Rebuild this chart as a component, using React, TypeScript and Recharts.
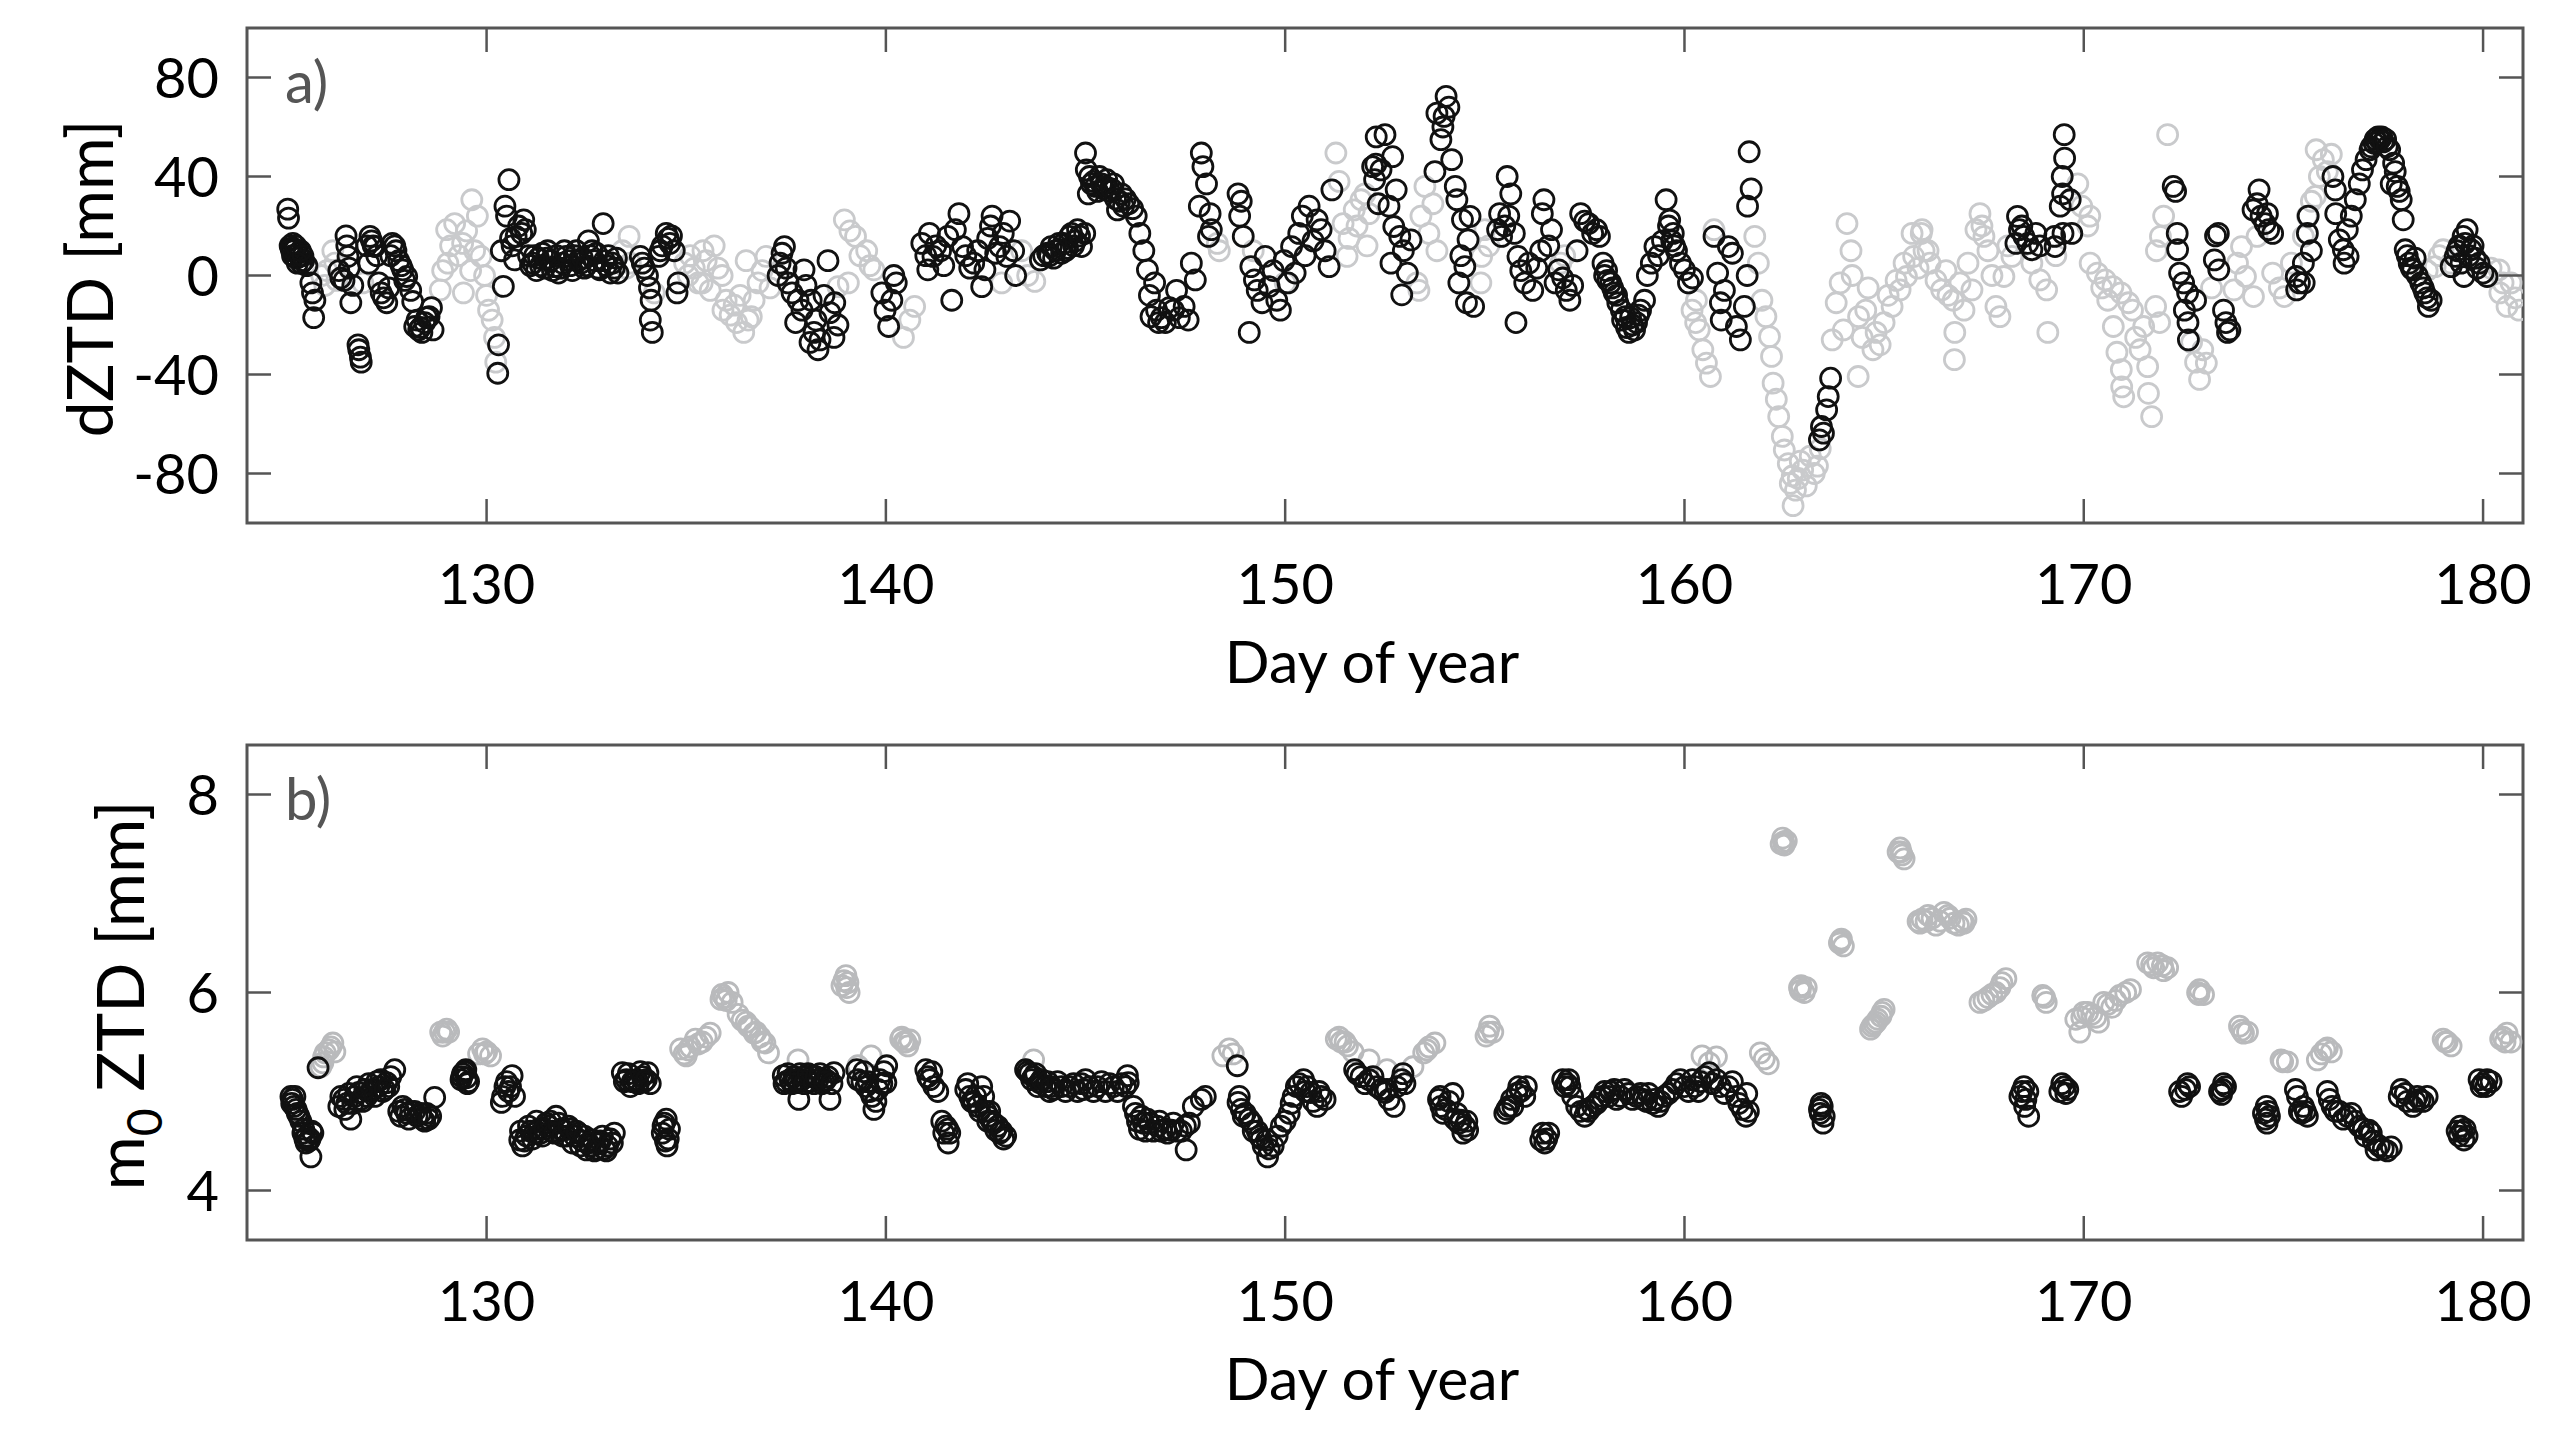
import React from "react";
import { ScatterChart, Scatter, XAxis, YAxis, ReferenceArea } from "recharts";

const dayTicks = [130, 140, 150, 160, 170, 180];
const dztdTicks = [-80, -40, 0, 40, 80];
const m0Ticks = [4, 6, 8];

// dZTD [mm], black markers: [day of year, value]
const dztdDark: [number, number][] = [
  [125.02, 26.8], [125.04, 23.2], [125.08, 12], [125.12, 10], [125.15, 13], [125.18, 8], [125.2, 10.5],
  [125.24, 7], [125.28, 9], [125.32, 7.7], [125.36, 5], [125.42, 6], [125.5, 4], [125.6, -3], [125.64, -7],
  [125.67, -17], [125.7, -10], [125.1, 11], [125.14, 8], [125.22, 12], [125.26, 5], [125.34, 10], [125.4, 8],
  [126.3, 2], [126.35, -1], [126.43, -2], [126.48, 16], [126.5, 12], [126.53, 7.7],
  [126.56, 3], [126.6, -11], [126.65, -4], [126.78, -28], [126.8, -30], [126.84, -33], [126.86, -35],
  [127.0, 12], [127.05, 5], [127.08, 15.8], [127.12, 14], [127.16, 12], [127.2, 11.7], [127.25, 8], [127.3, -3],
  [127.36, -7], [127.42, -9], [127.5, -11], [127.55, -5], [127.6, 8], [127.64, 13], [127.7, 12], [127.73, 10],
  [127.8, 6], [127.86, 4], [127.9, 2.3], [127.95, -2], [128.0, -0.4], [128.1, -6], [128.15, -10.5], [128.2, -20.6],
  [128.26, -18], [128.3, -22], [128.35, -21], [128.38, -23], [128.45, -19], [128.5, -17], [128.56, -16.6],
  [128.62, -13], [128.66, -22],
  [130.28, -39.5], [130.3, -28], [130.37, 10], [130.42, -4.4], [130.46, 28], [130.5, 24], [130.56, 38.7],
  [130.6, 15], [130.64, 12], [130.7, 6.3], [130.74, 15.8], [130.8, 20], [130.88, 17], [130.93, 22.5], [130.97, 18.5],
  [131.05, 8], [131.1, 4], [131.16, 5], [131.25, 2], [131.3, 7], [131.4, 9], [131.45, 3], [131.53, 10], [131.6, 6],
  [131.7, 3.6], [131.8, 1], [131.9, 5], [131.99, 7.7], [132.1, 4], [132.2, 8], [132.3, 6], [132.36, 5], [132.45, 3],
  [132.55, 14], [132.6, 8], [132.64, 10], [132.7, 6], [132.8, 3], [132.83, 2.3], [132.92, 21], [133.0, 4],
  [133.1, 1], [133.2, 3], [133.29, 1],
  [131.2, 8], [131.35, 4], [131.5, 7], [131.65, 2], [131.75, 8], [131.85, 3], [131.95, 10], [132.05, 6],
  [132.15, 2], [132.25, 10], [132.4, 7], [132.5, 4], [132.75, 9], [132.95, 6], [133.05, 8], [133.15, 5], [133.25, 7],
  [133.85, 7.7], [133.9, 5], [133.95, 3], [134.03, 0], [134.08, -5],
  [134.12, -10], [134.1, -18], [134.15, -23], [134.31, 7.7], [134.35, 10], [134.4, 12], [134.5, 17], [134.55, 15],
  [134.59, 13], [134.63, 16], [134.7, 10], [134.77, -7], [134.8, -3],
  [137.3, 0], [137.35, 5], [137.4, 9], [137.46, 11.7], [137.5, 3], [137.55, -3], [137.65, -7], [137.74, -19],
  [137.8, -10], [137.9, -14], [137.95, 2.3], [138.0, -4], [138.1, -27], [138.13, -10], [138.2, -23], [138.25, -18],
  [138.3, -30], [138.35, -26], [138.45, -8], [138.55, 6], [138.6, -15], [138.7, -25], [138.72, -11], [138.8, -20],
  [139.9, -7], [139.98, -14], [140.07, -20.6], [140.15, -10], [140.2, 0], [140.26, -3],
  [140.9, 13], [141.0, 8], [141.05, 2.3], [141.09, 17], [141.18, 7.7], [141.25, 12], [141.37, 10], [141.45, 4],
  [141.55, 15.8], [141.65, -10], [141.74, 18.5], [141.83, 25], [141.92, 11.7], [142.0, 8], [142.1, 3], [142.2, 5],
  [142.3, 10], [142.4, -4.5], [142.48, 2.3], [142.55, 15], [142.62, 20], [142.66, 24], [142.75, 9], [142.85, 11.7],
  [142.94, 17], [143.03, 7.7], [143.1, 22], [143.2, 10], [143.25, 0],
  [143.87, 6.3], [143.95, 8], [144.05, 9], [144.14, 11.7], [144.2, 7], [144.33, 13], [144.4, 9], [144.5, 10],
  [144.6, 15.8], [144.7, 12], [144.8, 18.5], [144.9, 11.7], [144.98, 17],
  [144.1, 8], [144.25, 10], [144.45, 13], [144.55, 11], [144.65, 17], [144.75, 14], [144.85, 16],
  [145.0, 49.5], [145.02, 42.7], [145.07, 33], [145.15, 37], [145.25, 36], [145.35, 40], [145.45, 35], [145.53, 38.7],
  [145.6, 34], [145.7, 37], [145.8, 26.5], [145.9, 33], [146.0, 31], [146.08, 29], [146.18, 27], [146.27, 24],
  [145.1, 40], [145.2, 38], [145.3, 34], [145.4, 37], [145.5, 36], [145.65, 35], [145.75, 31], [145.85, 30],
  [145.95, 28],
  [146.36, 17], [146.46, 10], [146.55, 2.3], [146.6, -8], [146.64, -16.6], [146.73, -3], [146.78, -14], [146.83, -19],
  [146.9, -17], [147.0, -19], [147.1, -13], [147.2, -14], [147.28, -6], [147.35, -17], [147.47, -12.5], [147.57, -18],
  [147.65, 5], [147.75, -1.8], [147.85, 28], [147.9, 49.5], [147.94, 44], [148.03, 37], [148.08, 15.8], [148.12, 25],
  [148.15, 18.5], [148.82, 33], [148.86, 24], [148.9, 30], [148.95, 15.8],
  [149.1, -23], [149.14, 3.6], [149.23, -1.8], [149.3, -6], [149.42, -11], [149.5, 7.7], [149.6, -4.5], [149.7, 2],
  [149.79, -10], [149.88, -14], [149.97, 6], [150.07, -3], [150.16, 11.7], [150.25, 1], [150.34, 17], [150.43, 24],
  [150.5, 8], [150.6, 28], [150.7, 14], [150.8, 22.5], [150.9, 18.5], [151.0, 10], [151.1, 3.6], [151.17, 34.6],
  [152.19, 44], [152.24, 38.7], [152.27, 45], [152.28, 56], [152.33, 29], [152.4, 42.7], [152.5, 56.9], [152.6, 28],
  [152.65, 5], [152.69, 48], [152.72, 19.8], [152.78, 34.6], [152.87, 15.8], [152.92, -7.8], [152.96, 10],
  [153.06, 1], [153.15, 14.4],
  [153.75, 42], [153.8, 65.6], [153.9, 54.9], [153.95, 60], [153.98, 64.3], [154.03, 72.4], [154.1, 68],
  [154.17, 46.8], [154.26, 36], [154.3, 30.6], [154.35, -3], [154.4, 8], [154.44, 22.5], [154.5, 3.6], [154.54, -11],
  [154.58, 14.4], [154.63, 23.9], [154.72, -12.5],
  [155.32, 18.5], [155.37, 25], [155.42, 15.8], [155.5, 20], [155.56, 40], [155.6, 24], [155.65, 33], [155.74, 17],
  [155.78, -19], [155.83, 7.7], [155.9, 2], [156.0, -3], [156.1, 5], [156.2, -6], [156.3, 3], [156.4, 10],
  [156.44, 25], [156.48, 30.6], [156.6, 12], [156.67, 18.5], [156.76, -3], [156.85, 2.3], [156.95, -1], [157.04, -6],
  [157.13, -10], [157.2, -4], [157.31, 10], [157.4, 25], [157.5, 22], [157.6, 21], [157.7, 17], [157.8, 18.5],
  [157.87, 15.8], [157.96, 5], [158.0, 0], [158.08, -2], [158.15, -3], [158.24, -7], [158.33, -11], [158.42, -14],
  [158.52, -16.6], [158.61, -23], [158.7, -20], [158.8, -19], [158.9, -14], [159.0, -10], [159.07, 0], [159.17, 5],
  [158.05, 2], [158.2, -5], [158.3, -8], [158.45, -18], [158.55, -21], [158.65, -17], [158.75, -22], [158.85, -16],
  [159.26, 11.7], [159.35, 8], [159.45, 14], [159.54, 30.6], [159.63, 22.4], [159.72, 17], [159.8, 10], [159.9, 5],
  [159.6, 20], [159.68, 14], [159.75, 12],
  [160.0, 2.3], [160.1, -3], [160.2, -1],
  [160.74, 15.8], [160.83, 1], [160.9, -11], [160.92, -18], [161.0, -6], [161.1, 11.7], [161.2, 9], [161.3, -20.6],
  [161.4, -26], [161.5, -12.5], [161.57, 0], [161.58, 28], [161.62, 50], [161.67, 35],
  [163.38, -66.4], [163.43, -61], [163.48, -63.7], [163.56, -54.3], [163.6, -48.9], [163.66, -41.5],
  [168.3, 13], [168.34, 23.9], [168.39, 18.5], [168.45, 20], [168.5, 15.8], [168.6, 13], [168.7, 10.4], [168.8, 17],
  [168.9, 12], [169.27, 15.8], [169.28, 11.7], [169.41, 28], [169.46, 40], [169.47, 33], [169.48, 17],
  [169.51, 56.9], [169.52, 47.4], [169.66, 30.6], [169.7, 17],
  [172.24, 36], [172.3, 34], [172.34, 17], [172.35, 10.4], [172.4, 1], [172.5, -3], [172.52, -14], [172.6, -7],
  [172.61, -19], [172.62, -26], [172.8, -10], [173.27, 6.3], [173.3, 16], [173.37, 17], [173.38, 2.3], [173.5, -14],
  [173.56, -19], [173.6, -23], [173.66, -22],
  [174.24, 26.5], [174.34, 29], [174.39, 34.6], [174.44, 24], [174.54, 21], [174.6, 25], [174.63, 18.5],
  [174.73, 17], [175.32, -0.4], [175.33, -5.8], [175.4, -3], [175.5, 5], [175.52, -3], [175.6, 17], [175.62, 24],
  [175.7, 10],
  [176.24, 40], [176.3, 34.6], [176.31, 25], [176.4, 14.4], [176.5, 10.4], [176.52, 5], [176.6, 18.5], [176.62, 7.7],
  [176.7, 24], [176.8, 30.6], [176.9, 37], [176.98, 42.7], [177.07, 46.8], [177.17, 50.8], [177.27, 53.5],
  [177.37, 56], [177.42, 55], [177.46, 56], [177.56, 55], [177.66, 50.8], [177.7, 37], [177.76, 45.4], [177.85, 36],
  [177.2, 52], [177.3, 55], [177.35, 54], [177.5, 54], [177.6, 52], [177.8, 42], [177.9, 34],
  [177.95, 30.6], [178.0, 22.5], [178.05, 10.4], [178.15, 5], [178.24, 2.3], [178.3, 7], [178.44, -3], [178.54, -7],
  [178.1, 8], [178.2, 3], [178.35, 0], [178.5, -5], [178.6, -9],
  [178.63, -12.5], [178.7, -10], [179.2, 3.6], [179.3, 7.7], [179.4, 12], [179.5, 15.8], [179.52, -0.4], [179.6, 18.5],
  [179.7, 10.4], [179.8, 7], [179.9, 5], [180.1, -0.4],
  [179.35, 10], [179.45, 5], [179.55, 13], [179.65, 8], [179.75, 12], [179.85, 3], [180.0, 1],
];

// dZTD [mm], light grey markers
const dztdLight: [number, number][] = [
  [125.87, 0], [125.95, -4], [126.0, 2], [126.15, 10], [126.2, 5], [126.25, -2], [126.9, -3],
  [128.84, -5.8], [128.9, 2], [129.0, 18.5], [129.03, 5], [129.1, 12], [129.2, 21], [129.3, 8], [129.4, 13],
  [129.42, -7], [129.5, 18], [129.6, 2], [129.63, 30.6], [129.7, 10], [129.77, 24], [129.86, 7.7], [129.95, 0],
  [130.0, -8], [130.05, -14], [130.14, -18], [130.2, -25], [130.23, -35],
  [133.4, 10], [133.5, 3], [133.57, 15.8], [133.6, 5], [134.2, -7],
  [134.96, 5], [135.05, 0], [135.1, 8], [135.2, 3], [135.3, -3], [135.4, -3], [135.42, 10], [135.5, 6], [135.6, -6],
  [135.7, 12], [135.8, 3], [135.9, 0], [135.92, -14], [136.0, -10], [136.1, -16], [136.2, -12], [136.26, -19],
  [136.35, -8], [136.44, -23], [136.5, 6], [136.55, -18], [136.63, -16.6], [136.7, -10], [136.8, -3], [136.9, 2],
  [137.0, 7.7], [137.1, -5],
  [138.8, -4.5], [138.96, 22.5], [139.06, -3], [139.1, 18], [139.24, 15.8], [139.35, 8], [139.52, 10], [139.6, 4],
  [139.7, 2.3], [140.44, -25], [140.6, -18], [140.72, -12.5], [142.9, -3], [143.4, 10], [143.55, 0], [143.73, -2.4],
  [148.3, 13], [148.35, 10], [149.2, 10], [150.0, -3],
  [151.27, 49.5], [151.35, 38], [151.45, 21], [151.55, 7.7], [151.6, 15], [151.73, 26.5], [151.8, 20], [151.9, 30.6],
  [152.0, 33], [152.05, 12], [152.1, 25], [153.3, -3], [153.35, -6], [153.4, 24], [153.5, 36], [153.6, 17],
  [153.7, 29], [153.8, 10], [154.9, -3], [154.92, 7.7], [155.0, 18.5], [155.1, 12], [156.9, 5], [157.0, 8],
  [160.19, -14], [160.28, -19], [160.3, -10], [160.37, -22], [160.46, -30], [160.55, -35.4], [160.65, -40.8],
  [160.74, 18.5], [161.76, 15.8], [161.85, 5], [161.94, -10], [162.04, -16.6], [162.13, -24.7], [162.18, -32.7],
  [162.22, -43.5], [162.3, -50], [162.36, -57], [162.45, -65], [162.5, -70.5], [162.6, -76], [162.65, -84],
  [162.7, -81], [162.72, -93], [162.78, -86.7], [162.85, -82], [162.9, -75], [162.96, -78.6], [163.05, -85],
  [163.15, -73], [163.25, -80], [163.33, -77], [163.4, -70],
  [163.7, -26], [163.8, -11], [163.9, -3], [163.98, -22], [164.07, 21], [164.17, 10], [164.2, 0], [164.35, -40.8],
  [164.36, -16.6], [164.45, -25], [164.54, -14], [164.6, -5], [164.72, -30], [164.8, -23], [164.9, -28], [165.0, -19],
  [165.1, -8], [165.2, -12.5], [165.3, -2], [165.4, -5.8], [165.5, 5], [165.56, -0.4], [165.7, 17], [165.74, 7.7],
  [165.85, 3], [165.93, 17], [165.95, 18.5], [166.0, 10], [166.1, 10], [166.15, 5], [166.3, -2], [166.44, -5.8],
  [166.55, 2], [166.6, -8], [166.73, -10], [166.76, -34], [166.77, -23], [166.9, -3], [167.0, -14], [167.1, 5],
  [167.2, -5.8], [167.3, 18.5], [167.4, 25], [167.45, 20], [167.5, 15.8], [167.6, 10], [167.7, 0], [167.8, -12.5],
  [167.9, -16.6], [168.0, -0.4], [168.1, 12], [168.2, 7.7], [168.7, 5], [168.9, -1.8], [169.07, -5.8], [169.1, -23],
  [169.3, 8], [169.85, 37], [169.95, 28], [170.1, 20], [170.15, 24], [170.16, 5], [170.34, 1], [170.45, -5],
  [170.54, -1.8], [170.6, -10], [170.73, -4.5], [170.74, -20.6], [170.83, -31], [170.93, -7], [170.94, -38],
  [170.95, -45], [171.0, -49], [171.12, -11], [171.22, -14], [171.3, -25], [171.41, -30], [171.5, -20.6],
  [171.6, -36.8], [171.62, -47.6], [171.7, -57], [171.8, -12.5], [171.82, 10], [171.9, -19], [171.92, 15.8],
  [172.0, 24], [172.1, 56.9], [172.7, -27], [172.8, -35], [172.9, -42], [172.98, -30], [173.07, -35.4], [173.2, -5],
  [173.76, -5.8], [173.85, 5], [173.95, 11.7], [174.05, -0.4], [174.25, -8.5], [174.34, 15.8], [174.73, 1],
  [174.9, -5], [175.02, -8.5], [175.2, 5], [175.5, 15.8], [175.6, 24], [175.7, 30], [175.8, 32], [175.82, 50.8],
  [175.9, 40], [176.0, 46.8], [176.1, 42], [176.2, 49],
  [178.6, 2], [178.8, 3.6], [178.9, 8], [179.0, 10.4], [179.2, 5], [180.2, 3], [180.4, 2.3], [180.42, -7],
  [180.5, -3], [180.6, -12.5], [180.7, -3], [180.8, -9], [180.9, -14],
];

// m0 ZTD [mm], black markers
const m0Dark: [number, number][] = [
  [125.1, 4.95], [125.14, 4.92], [125.18, 4.85], [125.23, 4.82], [125.3, 4.75], [125.4, 4.58], [125.45, 4.52],
  [125.5, 4.55], [125.55, 4.5], [125.6, 4.34], [125.65, 4.58], [125.78, 5.24],
  [125.12, 4.88], [125.2, 4.95], [125.26, 4.78], [125.35, 4.7], [125.42, 4.62], [125.48, 4.48], [125.58, 4.52],
  [125.62, 4.6],
  [126.3, 4.85], [126.42, 4.92], [126.5, 4.88], [126.6, 4.72], [126.7, 4.95], [126.8, 4.99], [126.9, 4.9],
  [127.0, 4.95], [127.1, 5.0], [127.16, 5.02], [127.3, 5.05], [127.4, 5.0], [127.5, 5.09], [127.6, 5.15],
  [127.7, 5.22], [127.8, 4.8], [127.9, 4.85], [128.0, 4.78], [128.1, 4.8], [128.26, 4.75], [128.4, 4.72],
  [128.5, 4.78], [128.6, 4.75], [128.7, 4.94],
  [126.35, 4.95], [126.45, 4.82], [126.55, 4.98], [126.65, 4.88], [126.75, 5.05], [126.85, 4.92], [126.95, 5.02],
  [127.05, 5.08], [127.2, 4.95], [127.25, 5.1], [127.35, 5.12], [127.45, 5.02], [127.55, 5.05],
  [127.85, 4.75], [127.95, 4.82], [128.05, 4.72], [128.2, 4.8], [128.35, 4.78], [128.45, 4.7], [128.55, 4.72],
  [129.36, 5.12], [129.4, 5.18], [129.45, 5.2], [129.5, 5.14], [129.55, 5.1],
  [129.38, 5.15], [129.48, 5.22], [129.52, 5.08],
  [130.37, 4.89], [130.46, 5.05], [130.55, 5.0], [130.64, 5.16], [130.7, 4.95],
  [130.4, 4.95], [130.5, 5.1], [130.6, 5.05],
  [130.83, 4.51], [130.9, 4.45], [131.0, 4.55], [131.1, 4.6], [131.2, 4.58], [131.3, 4.62], [131.4, 4.55],
  [131.5, 4.68], [131.56, 4.65], [131.65, 4.6], [131.74, 4.75], [131.85, 4.62], [131.93, 4.61], [132.0, 4.55],
  [132.1, 4.62], [132.2, 4.55], [132.3, 4.58], [132.4, 4.5], [132.5, 4.41], [132.6, 4.45], [132.66, 4.51],
  [132.75, 4.42], [132.85, 4.5], [132.95, 4.42], [133.03, 4.45], [133.1, 4.52], [133.2, 4.58],
  [130.85, 4.6], [130.95, 4.5], [131.05, 4.65], [131.15, 4.52], [131.25, 4.7], [131.35, 4.58], [131.45, 4.62],
  [131.6, 4.7], [131.7, 4.58], [131.8, 4.68], [131.9, 4.55], [132.05, 4.65], [132.15, 4.48], [132.25, 4.6],
  [132.35, 4.45], [132.45, 4.55], [132.55, 4.48], [132.7, 4.4], [132.8, 4.47], [132.9, 4.55], [133.0, 4.4],
  [133.15, 4.48],
  [133.4, 5.19], [133.5, 5.12], [133.6, 5.05], [133.7, 5.1], [133.76, 5.12], [133.9, 5.15], [134.04, 5.19],
  [134.1, 5.08], [134.4, 4.58], [134.45, 4.68], [134.5, 4.72], [134.55, 4.52], [134.52, 4.45],
  [133.45, 5.1], [133.55, 5.18], [133.65, 5.1], [133.8, 5.08], [133.85, 5.2], [133.95, 5.1], [134.0, 5.12],
  [134.42, 4.65], [134.48, 4.5], [134.58, 4.62],
  [137.43, 5.16], [137.5, 5.1], [137.6, 5.12], [137.7, 5.15], [137.8, 5.09], [137.82, 4.92], [137.9, 5.12],
  [138.0, 5.15], [138.1, 5.1], [138.17, 5.16], [138.3, 5.12], [138.4, 5.08], [138.5, 5.12], [138.6, 4.92],
  [138.7, 5.19], [139.27, 5.22], [139.4, 5.1], [139.5, 5.05], [139.6, 5.0], [139.7, 4.82], [139.8, 5.02],
  [139.9, 5.08], [140.0, 5.09], [140.02, 5.26],
  [137.45, 5.08], [137.55, 5.18], [137.65, 5.08], [137.75, 5.12], [137.85, 5.18], [137.95, 5.08], [138.05, 5.18],
  [138.2, 5.08], [138.25, 5.15], [138.35, 5.18], [138.45, 5.1], [138.55, 5.15], [138.65, 5.08],
  [139.3, 5.12], [139.45, 5.2], [139.55, 5.1], [139.65, 4.95], [139.75, 4.9], [139.85, 5.12], [139.95, 5.2],
  [141.0, 5.22], [141.1, 5.12], [141.2, 5.05], [141.4, 4.7], [141.5, 4.65], [141.56, 4.48], [141.6, 4.58],
  [141.05, 5.15], [141.15, 5.2], [141.3, 5.0], [141.45, 4.58], [141.55, 4.62],
  [142.0, 5.02], [142.1, 4.95], [142.2, 4.89], [142.3, 4.85], [142.4, 5.05], [142.5, 4.8], [142.57, 4.75],
  [142.65, 4.7], [142.75, 4.61], [142.85, 4.58], [143.0, 4.55],
  [142.05, 5.08], [142.15, 4.9], [142.25, 4.95], [142.35, 4.8], [142.45, 4.95], [142.55, 4.7], [142.6, 4.8],
  [142.7, 4.68], [142.8, 4.65], [142.9, 4.6], [142.95, 4.52],
  [143.5, 5.22], [143.6, 5.18], [143.7, 5.15], [143.85, 5.09], [144.0, 5.05], [144.1, 5.0], [144.2, 5.02],
  [144.4, 5.05], [144.6, 5.05], [144.8, 5.0], [144.95, 5.02], [145.1, 5.05], [145.3, 5.05], [145.5, 5.0],
  [145.7, 5.05], [145.9, 5.08], [146.05, 5.16], [146.07, 5.09],
  [143.55, 5.2], [143.65, 5.12], [143.75, 5.18], [143.8, 5.05], [143.9, 5.12], [144.05, 5.1], [144.15, 5.05],
  [144.3, 5.1], [144.5, 5.0], [144.7, 5.08], [144.9, 5.08], [145.0, 5.12], [145.2, 5.0], [145.4, 5.1],
  [145.6, 5.08], [145.8, 5.0], [146.0, 5.05],
  [146.2, 4.85], [146.3, 4.7], [146.4, 4.75], [146.5, 4.6], [146.6, 4.68], [146.8, 4.65], [146.9, 4.6],
  [147.0, 4.62], [147.15, 4.61], [147.3, 4.6], [147.5, 4.65], [147.52, 4.41], [147.7, 4.85], [147.9, 4.92],
  [146.25, 4.78], [146.35, 4.62], [146.45, 4.68], [146.55, 4.72], [146.7, 4.6], [146.85, 4.7], [147.05, 4.58],
  [147.2, 4.68], [147.4, 4.6], [147.6, 4.68],
  [148.0, 4.95], [148.8, 5.26], [148.82, 4.89], [148.9, 4.82], [149.0, 4.78], [149.17, 4.68], [149.3, 4.6],
  [149.4, 4.52], [149.54, 4.51], [149.56, 4.34], [149.7, 4.45], [149.9, 4.65], [150.1, 4.78], [150.2, 4.95],
  [150.28, 5.05], [150.46, 5.12], [150.55, 5.05], [150.64, 4.99], [150.8, 4.85], [150.9, 4.95], [151.0, 4.92],
  [148.85, 4.95], [148.95, 4.75], [149.1, 4.72], [149.2, 4.6], [149.35, 4.55], [149.45, 4.45], [149.6, 4.42],
  [149.8, 4.55], [150.0, 4.7], [150.15, 4.88], [150.35, 5.08], [150.5, 5.0], [150.7, 4.9], [150.85, 5.0],
  [151.74, 5.22], [151.9, 5.15], [152.1, 5.12], [152.3, 5.05], [152.5, 4.99], [152.55, 5.02], [152.73, 4.85],
  [152.92, 5.12], [153.0, 5.08],
  [151.8, 5.18], [152.0, 5.08], [152.2, 5.15], [152.4, 5.02], [152.6, 4.92], [152.8, 5.05], [152.95, 5.18],
  [153.84, 4.92], [153.9, 4.85], [154.02, 4.82], [154.2, 4.98], [154.3, 4.78], [154.4, 4.71], [154.5, 4.65],
  [154.57, 4.61], [155.5, 4.78], [155.6, 4.85], [155.67, 4.92], [155.8, 4.98], [155.9, 5.0], [156.04, 5.05],
  [153.88, 4.95], [153.95, 4.78], [154.1, 4.9], [154.25, 4.72], [154.35, 4.68], [154.45, 4.58], [154.55, 4.7],
  [155.55, 4.82], [155.7, 4.85], [155.85, 5.05], [156.0, 4.95],
  [156.4, 4.51], [156.5, 4.48], [156.6, 4.58], [156.45, 4.58], [156.55, 4.52],
  [156.95, 5.12], [157.05, 5.08], [157.13, 5.05], [157.3, 4.85],
  [157.5, 4.75], [157.6, 4.8], [157.7, 4.85], [157.87, 4.92], [158.0, 5.0], [158.1, 4.95], [158.24, 5.02],
  [158.4, 4.95], [158.6, 4.98], [158.8, 4.95], [158.97, 4.92], [159.1, 4.98], [159.2, 4.88], [159.34, 4.85],
  [159.5, 4.95], [159.7, 5.02], [159.9, 5.12], [160.1, 5.0], [160.26, 5.05], [160.4, 5.1], [160.62, 5.19],
  [160.8, 5.12], [160.9, 5.05], [161.0, 4.98], [161.2, 5.1], [161.36, 4.88], [161.54, 4.75], [161.56, 4.98],
  [161.6, 4.8],
  [157.0, 5.05], [157.1, 5.12], [157.2, 4.95], [157.4, 4.8], [157.55, 4.82], [157.8, 4.88], [157.95, 4.95],
  [158.15, 5.0], [158.3, 4.92], [158.5, 5.02], [158.7, 4.92], [158.9, 4.98], [159.05, 4.9], [159.25, 4.92],
  [159.4, 4.9], [159.6, 4.98], [159.8, 5.08], [160.0, 5.05], [160.2, 5.12], [160.35, 5.0], [160.5, 5.15],
  [160.7, 5.08], [161.1, 5.05], [161.3, 4.95], [161.45, 4.82],
  [163.38, 4.82], [163.42, 4.88], [163.47, 4.68], [163.5, 4.75], [163.4, 4.78], [163.45, 4.85],
  [168.4, 4.95], [168.5, 5.05], [168.52, 4.85], [168.6, 5.0], [168.62, 4.75], [169.4, 5.0], [169.52, 5.05],
  [169.6, 5.02], [172.4, 5.0], [172.55, 5.02], [172.65, 5.05], [173.4, 5.0], [173.47, 5.02], [173.55, 5.05],
  [168.45, 5.0], [168.55, 4.92], [169.45, 5.08], [169.55, 4.98],
  [172.45, 4.95], [172.6, 5.08], [173.45, 4.97], [173.5, 5.08],
  [174.5, 4.78], [174.57, 4.85], [174.59, 4.68], [174.65, 4.75], [175.3, 5.02], [175.4, 4.8], [175.5, 4.85],
  [175.6, 4.75], [176.1, 5.0], [176.22, 4.85], [176.4, 4.8], [176.6, 4.75], [176.8, 4.7], [177.0, 4.62],
  [177.14, 4.61], [177.25, 4.5], [177.32, 4.41], [177.5, 4.42], [177.7, 4.44], [177.9, 4.95], [178.05, 4.98],
  [178.24, 4.85], [178.3, 4.9], [178.42, 4.92], [178.6, 4.95], [179.35, 4.6], [179.43, 4.65], [179.52, 4.51],
  [179.6, 4.55], [179.9, 5.12], [180.0, 5.08], [180.07, 5.05], [180.2, 5.1],
  [174.55, 4.72], [174.62, 4.8], [175.35, 4.95], [175.45, 4.78], [175.55, 4.8],
  [176.15, 4.92], [176.3, 4.8], [176.5, 4.72], [176.7, 4.78], [176.9, 4.65], [177.05, 4.55], [177.2, 4.58],
  [177.4, 4.45], [177.6, 4.4], [177.95, 5.02], [178.1, 4.9], [178.35, 4.95], [178.5, 4.9],
  [179.4, 4.55], [179.48, 4.6], [179.55, 4.62], [179.95, 5.05], [180.1, 5.12],
];

// m0 ZTD [mm], grey markers
const m0Light: [number, number][] = [
  [125.85, 5.25], [125.9, 5.29], [125.96, 5.39], [126.05, 5.42], [126.15, 5.49], [126.2, 5.4],
  [125.92, 5.35], [126.1, 5.45],
  [128.85, 5.6], [128.9, 5.56], [129.0, 5.63], [129.05, 5.6], [128.95, 5.6],
  [129.8, 5.38], [129.9, 5.43], [130.0, 5.4], [130.1, 5.36], [129.95, 5.38],
  [134.86, 5.43], [134.95, 5.38], [135.0, 5.36], [135.1, 5.45], [135.23, 5.53], [135.4, 5.5],
  [135.6, 5.59], [135.05, 5.42], [135.3, 5.48], [135.5, 5.55],
  [135.87, 5.93], [135.95, 5.95], [136.05, 6.0], [136.15, 5.9], [136.3, 5.78], [136.5, 5.7],
  [136.6, 5.65], [136.7, 5.59], [136.85, 5.55], [136.97, 5.49], [137.06, 5.39], [137.8, 5.32],
  [135.9, 5.98], [136.0, 5.92], [136.4, 5.72], [136.55, 5.66], [136.75, 5.6], [136.9, 5.5],
  [138.9, 6.07], [139.0, 6.17], [139.05, 6.1], [139.08, 6.0], [138.95, 6.12], [139.02, 6.05],
  [139.3, 5.26], [139.63, 5.36],
  [140.37, 5.53], [140.45, 5.5], [140.55, 5.46], [140.6, 5.52], [140.4, 5.55], [140.5, 5.5],
  [143.5, 5.22], [143.7, 5.32],
  [148.44, 5.36], [148.6, 5.43], [148.7, 5.38], [151.28, 5.53], [151.4, 5.5], [151.56, 5.46], [151.7, 5.4],
  [151.35, 5.55], [151.5, 5.5],
  [152.1, 5.32], [152.55, 5.22], [153.2, 5.25], [153.47, 5.39], [153.6, 5.45], [153.75, 5.49], [153.55, 5.42],
  [155.03, 5.56], [155.12, 5.66], [155.2, 5.6], [155.08, 5.6], [160.44, 5.36], [160.62, 5.29], [160.8, 5.35],
  [161.9, 5.39], [162.0, 5.33], [162.1, 5.28],
  [162.42, 7.5], [162.46, 7.56], [162.5, 7.49], [162.55, 7.53], [162.48, 7.52],
  [162.88, 6.05], [162.92, 6.07], [163.0, 6.0], [163.05, 6.05], [162.9, 6.02],
  [163.88, 6.5], [163.93, 6.54], [163.98, 6.47], [163.9, 6.52],
  [164.66, 5.63], [164.75, 5.68], [164.84, 5.73], [164.92, 5.76], [165.0, 5.83], [164.7, 5.66], [164.8, 5.7],
  [164.95, 5.8],
  [165.35, 7.42], [165.4, 7.46], [165.45, 7.39], [165.5, 7.35], [165.42, 7.42],
  [165.85, 6.72], [165.95, 6.74], [166.1, 6.78], [166.3, 6.68], [166.5, 6.81], [166.65, 6.75], [166.86, 6.68],
  [166.95, 6.72], [167.05, 6.74], [165.9, 6.7], [166.05, 6.72], [166.2, 6.75], [166.4, 6.72], [166.6, 6.78],
  [166.75, 6.7], [167.0, 6.7],
  [167.4, 5.9], [167.6, 5.95], [167.8, 6.0], [167.95, 6.1], [168.05, 6.14], [167.5, 5.92], [167.7, 5.98],
  [167.9, 6.05],
  [168.97, 5.97], [169.06, 5.9], [169.02, 5.95],
  [169.8, 5.73], [169.9, 5.6], [170.0, 5.8], [170.2, 5.78], [170.37, 5.7], [170.5, 5.9], [170.7, 5.85],
  [170.9, 5.97], [171.17, 6.03], [169.95, 5.75], [170.1, 5.8], [170.3, 5.75], [170.6, 5.88], [170.8, 5.92],
  [171.05, 6.0],
  [171.6, 6.3], [171.75, 6.25], [171.97, 6.27], [172.1, 6.25], [171.7, 6.28], [171.85, 6.3], [172.0, 6.22],
  [172.85, 6.0], [172.9, 6.03], [173.0, 5.98], [172.88, 5.98],
  [173.9, 5.66], [174.0, 5.59], [174.1, 5.6], [173.95, 5.62],
  [174.94, 5.32], [175.1, 5.3], [174.98, 5.3], [175.85, 5.32], [176.04, 5.42], [176.2, 5.4], [175.95, 5.38],
  [176.1, 5.44],
  [179.0, 5.53], [179.1, 5.5], [179.2, 5.46], [179.05, 5.5],
  [180.44, 5.53], [180.6, 5.59], [180.7, 5.5], [180.5, 5.55], [180.55, 5.5],
];

const W = 2567;
const H = 734;
const LEFT = 247;
const RIGHT = 2523;
const TOP = 28;
const BOTTOM = 523;
const Y_AXIS_W = 120;
const X_AXIS_H = 100;
const FONT = "Lato, 'Open Sans', sans-serif";
const AXIS = "#555";
const TICK_LEN = 24;

const toPts = (rows: [number, number][]) => rows.map(([d, v]) => ({ d, v }));

const ring = (color: string) => (p: any) => (
  <circle cx={p.cx} cy={p.cy} r={10} fill="none" stroke={color} strokeWidth={2.8} />
);

function XTick(props: any) {
  const { x, payload } = props;
  return (
    <g>
      <line x1={x} x2={x} y1={BOTTOM} y2={BOTTOM - TICK_LEN} stroke={AXIS} strokeWidth={2.5} />
      <line x1={x} x2={x} y1={TOP} y2={TOP + TICK_LEN} stroke={AXIS} strokeWidth={2.5} />
      <text x={x} y={BOTTOM + 81} textAnchor="middle" fontSize={56} fontFamily={FONT} fill="#000">
        {payload.value}
      </text>
    </g>
  );
}

function YTick(props: any) {
  const { y, payload } = props;
  return (
    <g>
      <line x1={LEFT} x2={LEFT + TICK_LEN} y1={y} y2={y} stroke={AXIS} strokeWidth={2.5} />
      <line x1={RIGHT} x2={RIGHT - TICK_LEN} y1={y} y2={y} stroke={AXIS} strokeWidth={2.5} />
      <text x={LEFT - 28} y={y} dy={20} textAnchor="end" fontSize={56} fontFamily={FONT} fill="#000">
        {payload.value}
      </text>
    </g>
  );
}

function Panel(props: {
  top: number;
  dark: [number, number][];
  light: [number, number][];
  lightColor: string;
  yDomain: [number, number];
  yTicks: number[];
  letter: string;
  yLabel: React.ReactNode;
}) {
  const { top, dark, light, lightColor, yDomain, yTicks, letter, yLabel } = props;
  return (
    <div style={{ position: "absolute", left: 0, top, width: W, height: H }}>
      <ScatterChart
        width={W}
        height={H}
        margin={{ top: TOP, right: W - RIGHT, bottom: H - BOTTOM - X_AXIS_H, left: LEFT - Y_AXIS_W }}
      >
        <XAxis
          type="number"
          dataKey="d"
          domain={[124, 181]}
          ticks={dayTicks}
          interval={0}
          height={X_AXIS_H}
          axisLine={false}
          tickLine={false}
          tick={<XTick />}
          allowDataOverflow
        />
        <YAxis
          type="number"
          dataKey="v"
          domain={yDomain}
          ticks={yTicks}
          interval={0}
          width={Y_AXIS_W}
          axisLine={false}
          tickLine={false}
          tick={<YTick />}
          allowDataOverflow
        />
        <Scatter data={toPts(light)} isAnimationActive={false} shape={ring(lightColor)} />
        <Scatter data={toPts(dark)} isAnimationActive={false} shape={ring("#111")} />
        <ReferenceArea
          x1={124}
          x2={181}
          y1={yDomain[0]}
          y2={yDomain[1]}
          fill="none"
          stroke={AXIS}
          strokeWidth={3}
          ifOverflow="visible"
        />
      </ScatterChart>
      <svg
        width={W}
        height={H}
        style={{ position: "absolute", left: 0, top: 0, pointerEvents: "none" }}
      >
        <text x={285} y={TOP + 75} fontSize={58} fontFamily={FONT} fill="#555">
          {letter}
        </text>
        <text
          x={1372}
          y={BOTTOM + 160}
          textAnchor="middle"
          fontSize={59}
          fontFamily={FONT}
          fill="#000"
        >
          Day of year
        </text>
        {yLabel}
      </svg>
    </div>
  );
}

export default function App() {
  const cy = (TOP + BOTTOM) / 2 + 3;
  return (
    <div style={{ position: "absolute", left: 0, top: 0, width: W, height: 1451, background: "#fff" }}>
      <Panel
        top={0}
        dark={dztdDark}
        light={dztdLight}
        lightColor="#c9cacc"
        yDomain={[-100, 100]}
        yTicks={dztdTicks}
        letter="a)"
        yLabel={
          <text
            x={113}
            y={cy}
            transform={`rotate(-90 113 ${cy})`}
            textAnchor="middle"
            fontSize={64}
            fontFamily={FONT}
            fill="#000"
          >
            dZTD [mm]
          </text>
        }
      />
      <Panel
        top={717}
        dark={m0Dark}
        light={m0Light}
        lightColor="#b9babc"
        yDomain={[3.5, 8.5]}
        yTicks={m0Ticks}
        letter="b)"
        yLabel={
          <text
            x={144}
            y={cy}
            transform={`rotate(-90 144 ${cy})`}
            textAnchor="middle"
            fontSize={66}
            fontFamily={FONT}
            fill="#000"
          >
            m
            <tspan fontSize={48} dy={18}>0</tspan>
            <tspan dy={-18}> ZTD [mm]</tspan>
          </text>
        }
      />
    </div>
  );
}
